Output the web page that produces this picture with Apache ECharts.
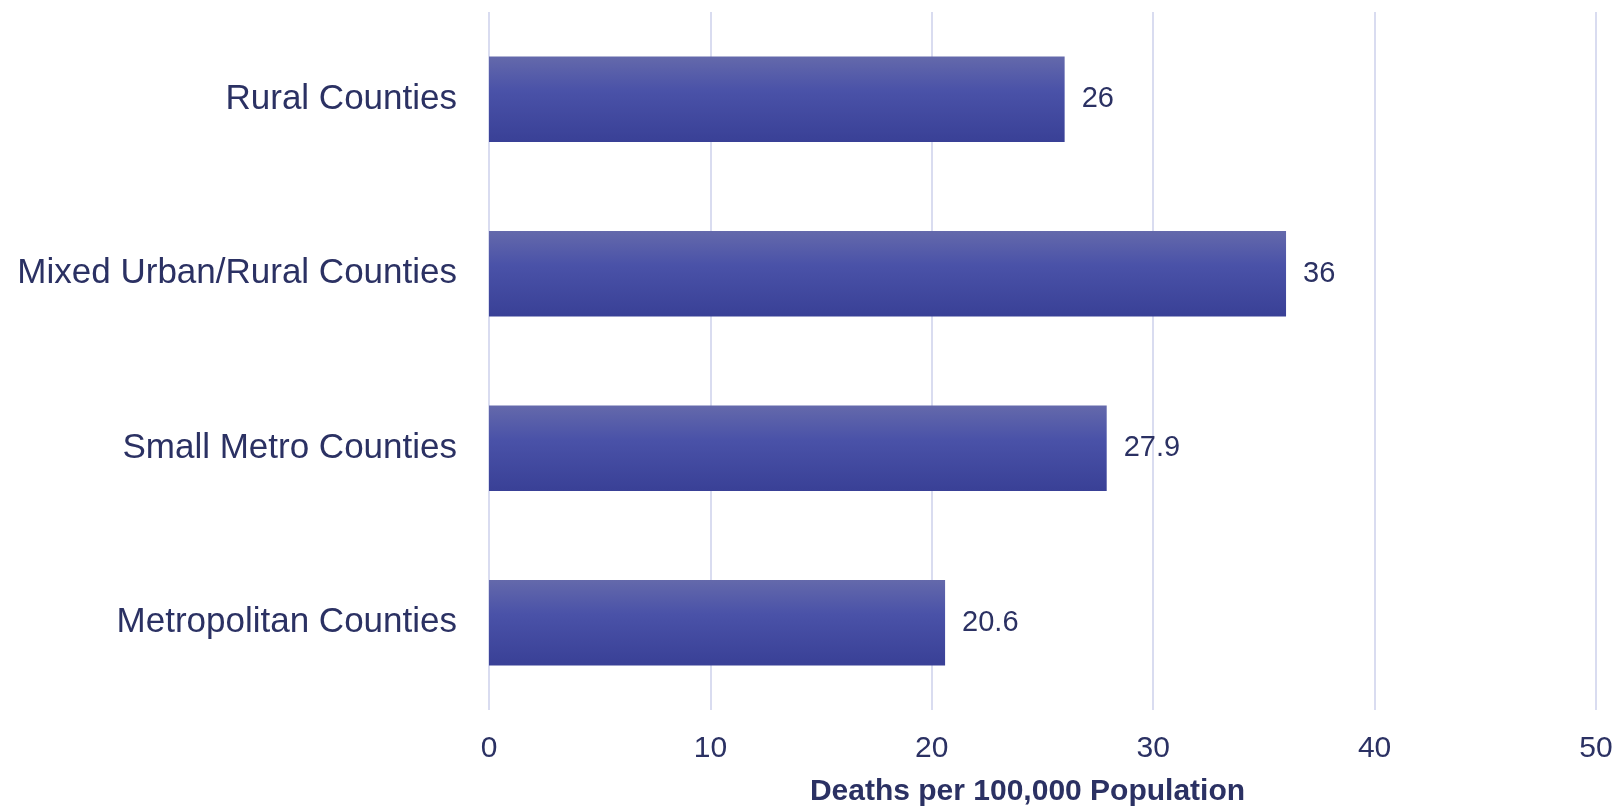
<!DOCTYPE html>
<html>
<head>
<meta charset="utf-8">
<script src="https://cdn.jsdelivr.net/npm/echarts@6/dist/echarts.min.js"></script>
<style>html,body{margin:0;padding:0;background:#fff}#c{width:1619px;height:809px}</style>
</head>
<body>
<div id="c"></div>
<script>
const categories = ["Rural Counties", "Mixed Urban/Rural Counties", "Small Metro Counties", "Metropolitan Counties"];
const values = [26, 36, 27.9, 20.6];
const xTicks = [0, 10, 20, 30, 40, 50];
const axisTitle = "Deaths per 100,000 Population";

const textColor = '#2b3163';
const font = 'Liberation Sans, Arial, sans-serif';
const chart = echarts.init(document.getElementById('c'));
chart.setOption({
  animation: false,
  grid: { left: 489, right: 23, top: 12, bottom: 99, containLabel: false, outerBoundsMode: 'none' },
  xAxis: {
    type: 'value', min: xTicks[0], max: xTicks[xTicks.length - 1], interval: 10,
    axisLine: { show: false }, axisTick: { show: false },
    splitLine: { show: true, lineStyle: { color: '#d9dcf0', width: 2 } },
    axisLabel: { color: textColor, fontSize: 30, fontFamily: font, margin: 24 },
    name: axisTitle, nameLocation: 'middle', nameGap: 67,
    nameTextStyle: { color: textColor, fontSize: 30, fontWeight: 'bold', fontFamily: font, padding: [0, 30, 0, 0] }
  },
  yAxis: {
    type: 'category', data: categories, inverse: true,
    axisLine: { show: false }, axisTick: { show: false },
    axisLabel: { color: textColor, fontSize: 35, fontFamily: font, margin: 32 }
  },
  series: [{
    type: 'bar', data: values, barWidth: '49%',
    itemStyle: {
      color: new echarts.graphic.LinearGradient(0, 0, 0, 1, [
        { offset: 0, color: '#6469ab' },
        { offset: 0.4, color: '#4a52a8' },
        { offset: 1, color: '#394096' }
      ])
    },
    label: { show: true, position: 'right', distance: 17, color: textColor, fontSize: 29, fontFamily: font }
  }]
});
</script>
</body>
</html>
